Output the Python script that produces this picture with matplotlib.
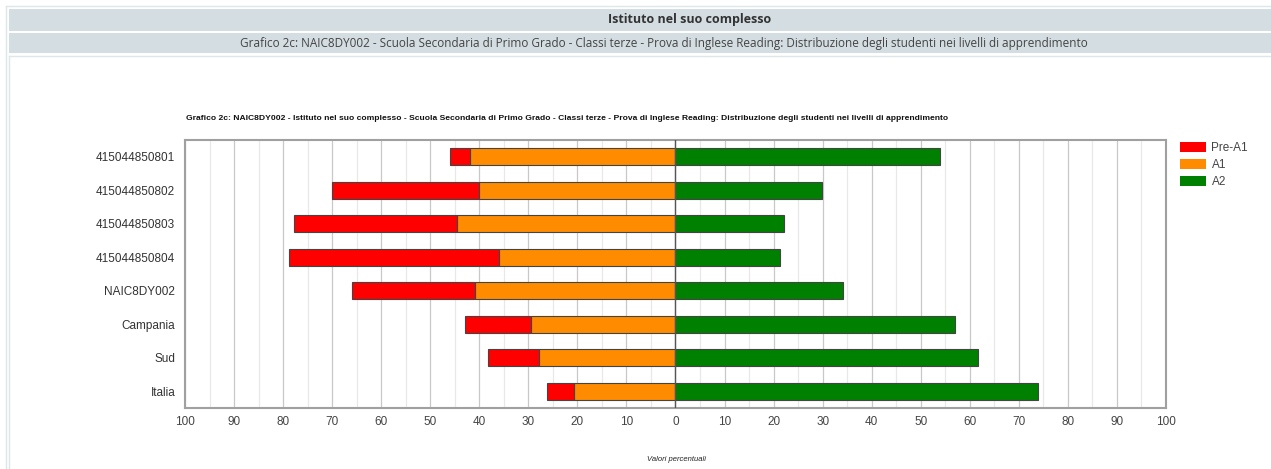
import numpy as np
import matplotlib.pyplot as plt
from matplotlib.patches import Rectangle
from matplotlib.lines import Line2D

# data (percent of students)
categories = ['415044850801', '415044850802', '415044850803', '415044850804',
              'NAIC8DY002', 'Campania', 'Sud', 'Italia']
pre_a1 = [4.1, 30.1, 33.1, 42.8, 25.1, 13.6, 10.4, 5.5]
a1 = [41.8, 40.0, 44.6, 35.9, 40.8, 29.4, 27.9, 20.6]
a2 = [54.0, 29.8, 22.2, 21.3, 34.1, 57.0, 61.7, 73.9]
tick_vals = np.arange(-100, 101, 10)
tick_labels = [str(abs(v)) for v in tick_vals]

W, H = 1271, 469
fig = plt.figure(figsize=(W / 100, H / 100), dpi=100)
fig.patch.set_facecolor('white')
plt.rcParams['font.family'] = ['Liberation Sans', 'DejaVu Sans']

def fx(px):
    return px / W

def fy(py):
    return 1 - py / H

# page frame and header bars
bar_col = '#d4dee2'
line_col = '#dde7ea'
fig.add_artist(Line2D([fx(6), fx(6)], [fy(6), 0], color=line_col, lw=1))
fig.add_artist(Line2D([fx(6), 1], [fy(6), fy(6)], color=line_col, lw=1))
fig.add_artist(Line2D([fx(9), fx(9)], [fy(56), 0], color=line_col, lw=1))
fig.add_artist(Line2D([fx(9), 1], [fy(56), fy(56)], color=line_col, lw=1))
fig.add_artist(Rectangle((fx(9), fy(31)), 1, fy(9) - fy(31), color=bar_col, lw=0))
fig.add_artist(Rectangle((fx(9), fy(53)), 1, fy(33) - fy(53), color=bar_col, lw=0))
fig.text(fx(690), fy(20), 'Istituto nel suo complesso', ha='center', va='center',
         fontsize=9, fontweight='bold', color='#333333', family='Open Sans')
fig.text(fx(664), fy(43),
         'Grafico 2c: NAIC8DY002 - Scuola Secondaria di Primo Grado - Classi terze - '
         'Prova di Inglese Reading: Distribuzione degli studenti nei livelli di apprendimento',
         ha='center', va='center', fontsize=8.5, color='#444444', family='Open Sans')

# chart
ax = fig.add_axes([fx(185), fy(408), fx(1166) - fx(185), fy(140) - fy(408)])
y = np.arange(len(categories))
pre = np.array(pre_a1)
a1v = np.array(a1)
a2v = np.array(a2)
ax.barh(y, -a1v, height=0.5, color='#ff8c00', edgecolor='#444444', lw=0.8, label='A1', zorder=3)
ax.barh(y, -pre, left=-a1v, height=0.5, color='#ff0000', edgecolor='#444444', lw=0.8,
        label='Pre-A1', zorder=3)
ax.barh(y, a2v, height=0.5, color='#008000', edgecolor='#444444', lw=0.8, label='A2', zorder=3)

ax.set_xlim(-100, 100)
ax.set_ylim(len(categories) - 0.5, -0.5)
ax.set_xticks(tick_vals)
ax.set_xticklabels(tick_labels)
ax.set_xticks(np.arange(-95, 100, 10), minor=True)
ax.grid(axis='x', which='major', color='#c8c8c8', lw=0.9, zorder=0)
ax.grid(axis='x', which='minor', color='#e8e8e8', lw=0.9, zorder=0)
ax.axvline(0, color='#555555', lw=1, zorder=4)
ax.set_yticks(y)
ax.set_yticklabels(categories)
ax.tick_params(axis='both', which='both', length=0, labelsize=8.5, colors='#444444')
ax.tick_params(axis='x', pad=6)
ax.tick_params(axis='y', pad=7, colors='#333333')
for s in ax.spines.values():
    s.set_color('#a0a0a0')
    s.set_linewidth(1.5)

fig.text(fx(186), fy(118),
         'Grafico 2c: NAIC8DY002 - Istituto nel suo complesso - Scuola Secondaria di Primo Grado - '
         'Classi terze - Prova di Inglese Reading: Distribuzione degli studenti nei livelli di apprendimento',
         ha='left', va='center', fontsize=6.1, fontweight='bold', color='#111111')
fig.text(fx(677), fy(459), 'Valori percentuali', ha='center', va='center',
         fontsize=5.5, style='italic', color='#222222')

# legend
handles, labels = ax.get_legend_handles_labels()
order = [1, 0, 2]
leg = fig.legend([handles[i] for i in order], [labels[i] for i in order],
                 loc='upper left', bbox_to_anchor=(fx(1169), fy(131)), frameon=False,
                 fontsize=8.5, handlelength=2.2, handleheight=1.0, labelspacing=0.4,
                 handletextpad=0.5)
for t in leg.get_texts():
    t.set_color('#444444')
for p in leg.get_patches():
    p.set_edgecolor('none')

fig.savefig('out.png', dpi=100)
